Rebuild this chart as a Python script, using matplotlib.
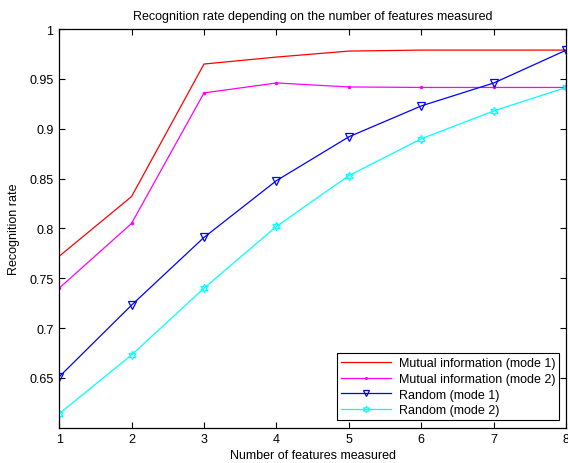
import numpy as np
import matplotlib
matplotlib.use('Agg')
import matplotlib.pyplot as plt

plt.rcParams['font.family'] = ['Liberation Sans', 'DejaVu Sans']

n_features = [1, 2, 3, 4, 5, 6, 7, 8]
mi_mode1 = [0.772, 0.832, 0.965, 0.972, 0.978, 0.979, 0.979, 0.979]
mi_mode2 = [0.740, 0.805, 0.936, 0.946, 0.942, 0.9415, 0.9415, 0.9415]
rnd_mode1 = [0.651, 0.723, 0.791, 0.848, 0.892, 0.923, 0.946, 0.979]
rnd_mode2 = [0.614, 0.673, 0.740, 0.802, 0.853, 0.890, 0.918, 0.9415]

yticks = [0.65, 0.7, 0.75, 0.8, 0.85, 0.9, 0.95, 1]
ytick_labels = ['0.65', '0.7', '0.75', '0.8', '0.85', '0.9', '0.95', '1']


def main():
    fig = plt.figure(figsize=(5.68, 4.64), dpi=100)
    ax = fig.add_axes([0.104, 0.076, 0.893, 0.859])

    ax.plot(n_features, mi_mode1, color='red', lw=0.9,
            label='Mutual information (mode 1)')
    ax.plot(n_features, mi_mode2, color='magenta', lw=0.9, marker='.',
            markersize=3, label='Mutual information (mode 2)')
    ax.plot(n_features, rnd_mode1, color='blue', lw=0.9, marker='v',
            markersize=6, markerfacecolor='none', markeredgewidth=0.9,
            label='Random (mode 1)')
    ax.plot(n_features, rnd_mode2, color='cyan', lw=0.9, marker=(6, 1, 0),
            markersize=6, markerfacecolor='none', markeredgewidth=0.9,
            label='Random (mode 2)')

    ax.set_xlim(1, 8)
    ax.set_ylim(0.6, 1)
    ax.set_xticks(n_features)
    ax.set_yticks(yticks)
    ax.set_yticklabels(ytick_labels)
    ax.tick_params(direction='in', top=True, right=True, labelsize=9,
                   length=4, width=0.8, pad=4)
    for s in ax.spines.values():
        s.set_linewidth(0.9)

    ax.set_title('Recognition rate depending on the number of features measured',
                 fontsize=9, pad=7)
    ax.set_xlabel('Number of features measured', fontsize=9, labelpad=3)
    ax.set_ylabel('Recognition rate', fontsize=9, labelpad=7)

    leg = ax.legend(loc='lower right', fontsize=9, fancybox=False,
                    framealpha=1, edgecolor='black', borderpad=0.3,
                    labelspacing=0.3, handlelength=4.0, handletextpad=0.6,
                    borderaxespad=0.6, markerscale=0.8)
    leg.get_frame().set_linewidth(0.8)

    fig.savefig('out.png', dpi=100)


if __name__ == '__main__':
    main()
